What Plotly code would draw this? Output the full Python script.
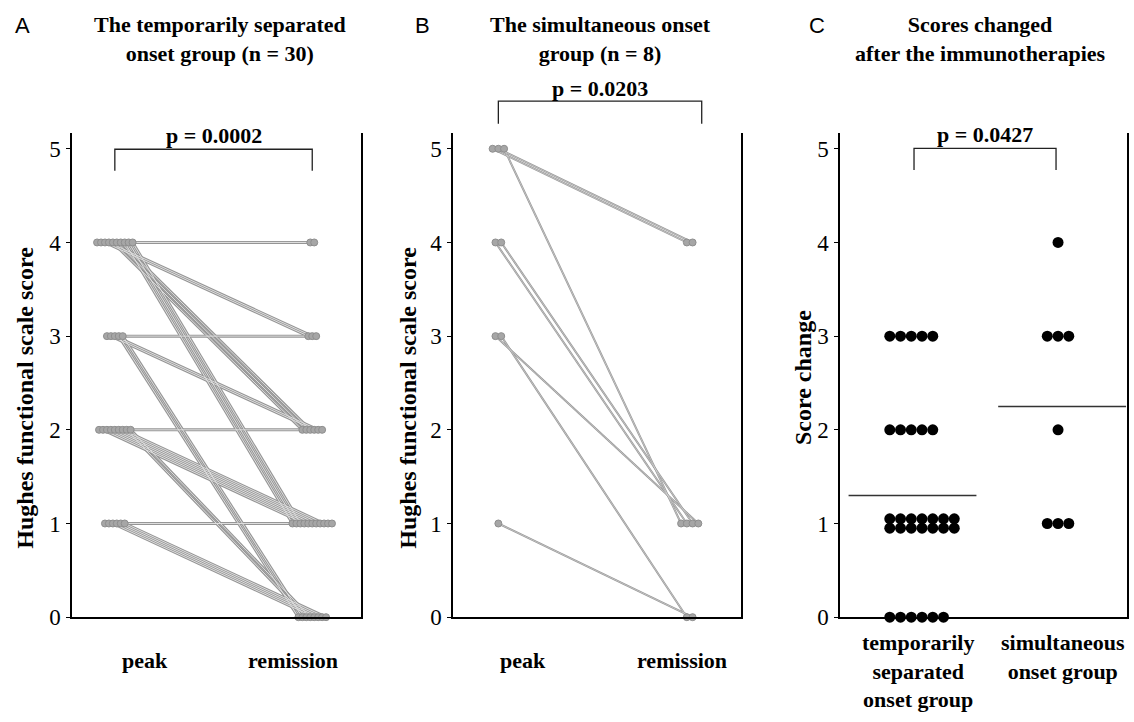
import numpy as np
import plotly.graph_objects as go

W, H = 1134, 722

# ---------------- data ----------------
# Panel A: temporarily separated onset group (n = 30)
a_peak      = [4, 4, 4, 4, 4, 4, 4, 4, 4, 4, 3, 3, 3, 3, 3, 2, 2, 2, 2, 2, 2, 2, 2, 2, 1, 1, 1, 1, 1, 1]
a_remission = [4, 4, 3, 3, 2, 2, 2, 1, 1, 1, 3, 2, 2, 0, 0, 2, 1, 1, 1, 1, 1, 1, 0, 0, 1, 1, 0, 0, 0, 0]
# Panel B: simultaneous onset group (n = 8)
b_peak      = [5, 5, 5, 4, 4, 3, 3, 1]
b_remission = [4, 4, 1, 1, 1, 1, 0, 0]

timepoints = ["peak", "remission"]
groups_c = [["temporarily", "separated", "onset group"], ["simultaneous", "onset group"]]
p_values = ["p = 0.0002", "p = 0.0203", "p = 0.0427"]
titles = [["The temporarily separated", "onset group (n = 30)"],
          ["The simultaneous onset", "group (n = 8)"],
          ["Scores changed", "after the immunotherapies"]]
panel_letters = ["A", "B", "C"]
ytitles = ["Hughes functional scale score", "Hughes functional scale score", "Score change"]

# Score changes derived from the paired data
c_changes = [list(np.array(a_peak) - np.array(a_remission)),
             list(np.array(b_peak) - np.array(b_remission))]

# ---------------- layout helpers ----------------
def px(x):
    return x / W

def py(y):
    return 1 - y / H

Y_BOTTOM, Y_TOP = 628.5, 135
UNIT = 95.4
Y_MAX = (Y_BOTTOM - Y_TOP) / UNIT

panels = {
    "A": dict(x0=72, x1=361, xr=[-0.217, 1.247]),
    "B": dict(x0=453, x1=741, xr=[-0.237, 1.268]),
    "C": dict(x0=840, x1=1127, xr=[-0.603, 1.507]),
}

SERIF = "Liberation Serif, Times New Roman, serif"
SANS = "Liberation Sans, Arial, sans-serif"

fig = go.Figure()


def jitter(values, step):
    """Deterministic side-by-side spread of identical values."""
    values = list(values)
    out = [0.0] * len(values)
    for v in set(values):
        idx = [i for i, u in enumerate(values) if u == v]
        n = len(idx)
        for k, i in enumerate(idx):
            out[i] = (k - (n - 1) / 2) * step
    return out


def paired(peak, rem, xa, ya, step, lw, inner):
    jp = jitter(peak, step)
    jr = jitter(rem, step)
    xs, ys = [], []
    for p, r, dp, dr in zip(peak, rem, jp, jr):
        xs += [0 + dp, 1 + dr, None]
        ys += [p, r, None]
    fig.add_trace(go.Scatter(x=xs, y=ys, mode="lines", xaxis=xa, yaxis=ya,
                             line=dict(color="#959595", width=lw), hoverinfo="skip",
                             showlegend=False, cliponaxis=False))
    if inner:
        fig.add_trace(go.Scatter(x=xs, y=ys, mode="lines", xaxis=xa, yaxis=ya,
                                 line=dict(color="#dedede", width=inner), hoverinfo="skip",
                                 showlegend=False, cliponaxis=False))
    fig.add_trace(go.Scatter(x=xs, y=ys, mode="markers", xaxis=xa, yaxis=ya,
                             marker=dict(color="#a6a6a6", size=7,
                                         line=dict(color="#8e8e8e", width=1)),
                             showlegend=False, cliponaxis=False))


paired(a_peak, a_remission, "x", "y", 0.02, 3.0, 1.0)
paired(b_peak, b_remission, "x2", "y2", 0.03, 2.0, 0.6)

# Panel C: dot plot with mean lines
STEP_C = 0.079
left_align = [True, False]
mean_extent = [(-0.54, 0.40), (-0.44, 0.50)]
for g, vals in enumerate(c_changes):
    xs, ys = [], []
    maxrow = min(7, max(vals.count(v) for v in set(vals)))
    for v in sorted(set(vals)):
        n = vals.count(v)
        rows = [n] if n <= 7 else [7] * (n // 7) + ([n % 7] if n % 7 else [])
        nr = len(rows)
        for ri, cnt in enumerate(rows):
            yoff = (ri - (nr - 1) / 2) * 0.1
            for k in range(cnt):
                if left_align[g]:
                    xo = (k - (maxrow - 1) / 2) * STEP_C
                else:
                    xo = (k - (cnt - 1) / 2) * STEP_C
                xs.append(g + xo)
                ys.append(v + yoff)
    fig.add_trace(go.Scatter(x=xs, y=ys, mode="markers", xaxis="x3", yaxis="y3",
                             marker=dict(color="black", size=11), showlegend=False,
                             cliponaxis=False))
    m = float(np.mean(vals))
    e0, e1 = mean_extent[g]
    fig.add_trace(go.Scatter(x=[g + e0, g + e1], y=[m, m], mode="lines",
                             xaxis="x3", yaxis="y3", line=dict(color="#333", width=1.5),
                             showlegend=False))

# ---------------- axes ----------------
ydom = [py(Y_BOTTOM), py(Y_TOP)]
for i, key in enumerate(["A", "B", "C"]):
    p = panels[key]
    sfx = "" if i == 0 else str(i + 1)
    fig.layout["xaxis" + sfx] = dict(
        domain=[px(p["x0"]), px(p["x1"])], range=p["xr"], anchor="y" + sfx,
        showline=True, linecolor="black", linewidth=1.5, showgrid=False,
        zeroline=False, showticklabels=False, ticks="", fixedrange=True)
    fig.layout["yaxis" + sfx] = dict(
        domain=ydom, range=[0, Y_MAX], anchor="x" + sfx,
        showline=True, mirror=True, linecolor="black", linewidth=1.5,
        showgrid=False, zeroline=False, ticks="outside", ticklen=4, tickwidth=1.2,
        tickcolor="black", tickvals=[0, 1, 2, 3, 4, 5], ticklabelstandoff=1,
        tickfont=dict(family=SERIF, size=23, color="black"), fixedrange=True)

# ---------------- annotations & brackets ----------------
ann = []
shapes = []


def xpix(key, xv):
    p = panels[key]
    lo, hi = p["xr"]
    return p["x0"] + (xv - lo) / (hi - lo) * (p["x1"] - p["x0"])


def bold_lines(lines):
    return "<br>".join("<b>" + s + "</b>" for s in lines)

title_x = [220, 600, 980]
letter_x = [22, 422, 817]
for i in range(3):
    ann.append(dict(x=px(title_x[i]), y=py(10), xref="paper", yref="paper",
                    text=bold_lines(titles[i]), showarrow=False, xanchor="center", yanchor="top",
                    font=dict(family=SERIF, size=22, color="black")))
    ann.append(dict(x=px(letter_x[i]), y=py(26), xref="paper", yref="paper",
                    text=panel_letters[i], showarrow=False, xanchor="center", yanchor="middle",
                    font=dict(family=SANS, size=22, color="black")))

# y-axis titles
ytx = [(25, 405), (408, 405), (803, 385)]
for i in range(3):
    ann.append(dict(x=px(ytx[i][0]), y=py(ytx[i][1]), xref="paper", yref="paper",
                    text="<b>" + ytitles[i] + "</b>", showarrow=False, textangle=-90,
                    xanchor="center", yanchor="middle",
                    font=dict(family=SERIF, size=24, color="black")))

# x category labels (A, B)
xlab = {"A": [145, 293], "B": [523, 682]}
for key in ["A", "B"]:
    for j, t in enumerate(timepoints):
        ann.append(dict(x=px(xlab[key][j]), y=py(673), xref="paper", yref="paper",
                        text="<b>" + t + "</b>", showarrow=False, xanchor="center",
                        yanchor="middle", font=dict(family=SERIF, size=22, color="black")))
# C labels
for j, t in enumerate(groups_c):
    ann.append(dict(x=px([918, 1063][j]), y=py(640), xref="paper", yref="paper",
                    text=bold_lines(t), showarrow=False, xanchor="center",
                    yanchor="top", font=dict(family=SERIF, size=22, color="black")))

# brackets
brk = [("A", 0, 1, 152, 174, 138), ("B", 0, 1, 103, 126, 90), ("C", 0, 1, 151, 173, 137)]
for i, (key, xa, xb, ytop, ybot, ytext) in enumerate(brk):
    xl = xpix(key, xa)
    xr_ = xpix(key, xb)
    if key == "B":
        xr_ = xr_ + 12
    if key == "C":
        xl, xr_ = xl - 8, xr_ - 2
    shapes.append(dict(type="path", xref="paper", yref="paper",
                       path=f"M {px(xl)} {py(ybot)} L {px(xl)} {py(ytop)} L {px(xr_)} {py(ytop)} L {px(xr_)} {py(ybot)}",
                       line=dict(color="#222", width=1.3)))
    ann.append(dict(x=px((xl + xr_) / 2), y=py(ytext), xref="paper", yref="paper",
                    text="<b>" + p_values[i] + "</b>", showarrow=False, xanchor="center",
                    yanchor="middle", font=dict(family=SERIF, size=22, color="black")))

fig.update_layout(width=W, height=H, margin=dict(l=0, r=0, t=0, b=0),
                  paper_bgcolor="white", plot_bgcolor="white",
                  annotations=ann, shapes=shapes, showlegend=False)

fig.write_html("out.html", config={"displayModeBar": False},
               post_script="document.body.style.margin='0';document.body.style.padding='0';")
